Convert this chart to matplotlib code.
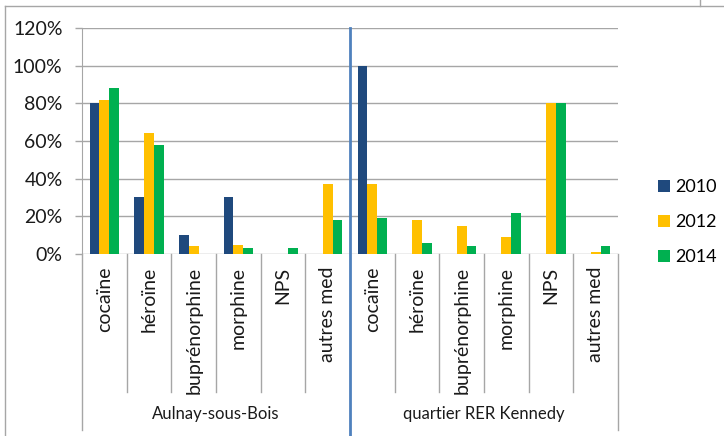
import matplotlib
matplotlib.use("Agg")
import matplotlib.pyplot as plt
from matplotlib.lines import Line2D
from matplotlib.patches import Patch
import numpy as np

plt.rcParams['font.family'] = ['Lato', 'DejaVu Sans']

groups = ["Aulnay-sous-Bois", "quartier RER Kennedy"]
categories = ["cocaïne", "héroïne", "buprénorphine", "morphine", "NPS", "autres med"]
years = ["2010", "2012", "2014"]
colors = ["#1F497D", "#FFC000", "#00B050"]

# values in percent, 12 categories (6 Aulnay + 6 Kennedy)
v2010 = [80, 30, 10, 30, 0, 0, 100, 0, 0, 0, 0, 0]
v2012 = [82, 64, 4, 5, 0, 37, 37, 18, 15, 9, 80, 1]
v2014 = [88, 58, 0, 3, 3, 18, 19, 6, 4, 22, 80, 4]
series = [v2010, v2012, v2014]
yticks = [0, 20, 40, 60, 80, 100, 120]

TXT = "#1a1a1a"
W, H = 724, 436
fig = plt.figure(figsize=(W / 100, H / 100), dpi=100)
x0, x1, ytop, ybot = 82, 618, 28, 254
ax = fig.add_axes([x0 / W, 1 - ybot / H, (x1 - x0) / W, (ybot - ytop) / H])

n = len(categories) * len(groups)
x = np.arange(n)
bw = 0.22
for k, (vals, c, lab) in enumerate(zip(series, colors, years)):
    ax.bar(x + (k - 1) * bw, np.array(vals) / 100, width=bw, color=c, label=lab, zorder=3)

ax.set_xlim(-0.5, n - 0.5)
ax.set_ylim(0, 1.2)
ax.set_yticks([t / 100 for t in yticks])
ax.set_yticklabels([f"{t}%" for t in yticks], fontsize=14, color=TXT)
ax.tick_params(axis='y', length=5, width=1, color="#A6A6A6", pad=9)
ax.tick_params(axis='x', bottom=False, labelbottom=False)
ax.grid(axis='y', color="#A6A6A6", linewidth=1, zorder=0)
for s in ['top', 'right', 'bottom']:
    ax.spines[s].set_visible(False)
ax.spines['left'].set_color("#A6A6A6")

# pixel -> data y conversion
ppu = (ybot - ytop) / 1.2
def py(p):
    return -(p - ybot) / ppu

# left axis extension and right edge
ax.plot([-0.5, -0.5], [0, py(430)], color="#A6A6A6", lw=1, clip_on=False)
ax.plot([n - 0.5, n - 0.5], [0, py(430)], color="#A6A6A6", lw=1, clip_on=False)
# category separators
for i in range(1, n):
    if i == len(categories):
        continue
    ax.plot([i - 0.5, i - 0.5], [0, py(392)], color="#A6A6A6", lw=1, clip_on=False)
# group separator (blue)
gs = len(categories) - 0.5
ax.plot([gs, gs], [1.2, py(436)], color="#4F81BD", lw=2, clip_on=False, zorder=5)

# category labels
for i in range(n):
    ax.text(i, py(267), categories[i % len(categories)], rotation=90, ha='center', va='top',
            fontsize=14, color=TXT)
# group labels
for g, name in enumerate(groups):
    xc = g * len(categories) + (len(categories) - 1) / 2
    ax.text(xc, py(414), name, ha='center', va='center', fontsize=12, color=TXT)

# legend
handles = [Patch(facecolor=c, edgecolor='none') for c in colors]
fig.legend(handles, years, loc='center left', bbox_to_anchor=(642 / W, 1 - 222 / H),
           frameon=False, fontsize=13, handlelength=0.65, handleheight=0.65,
           handletextpad=0.3, labelspacing=1.05)

# outer frame
fig.add_artist(Line2D([5 / W, 1], [1 - 6 / H, 1 - 6 / H], color="#A6A6A6", lw=1))
fig.add_artist(Line2D([5 / W, 5 / W], [0, 1 - 6 / H], color="#A6A6A6", lw=1))
fig.add_artist(Line2D([700 / W, 700 / W], [1 - 6 / H, 1], color="#A6A6A6", lw=1))

fig.savefig("out.png", dpi=100)
